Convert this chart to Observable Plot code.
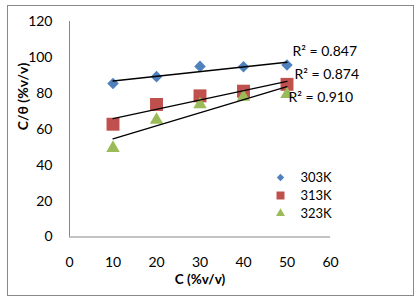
<!DOCTYPE html>
<html>
<head>
<meta charset="utf-8">
<script src="https://cdn.jsdelivr.net/npm/d3@7"></script>
<script src="https://cdn.jsdelivr.net/npm/@observablehq/plot@0.6"></script>
<style>
  html, body { margin: 0; padding: 0; background: #fff; }
  #wrap { position: relative; width: 418px; height: 300px; overflow: hidden; }
  #border { position: absolute; left: 7px; top: 5px; width: 405px; height: 289px; border: 1px solid #898989; pointer-events: none; }
  svg { display: block; font-family: Lato, "Open Sans", sans-serif; }
</style>
</head>
<body>
<div id="wrap"><div id="border"></div></div>
<script>
// ---- data ----
const concentrations = [10, 20, 30, 40, 50];
const seriesNames = ["303K", "313K", "323K"];
const values303 = [85.5, 89.3, 95.0, 94.8, 95.8];
const values313 = [62.8, 73.8, 78.6, 81.2, 85.0];
const values323 = [49.5, 65.2, 73.8, 78.0, 79.5];
const r2Labels = ["0.847", "0.874", "0.910"];
const xTicks = [0, 10, 20, 30, 40, 50, 60];
const yTicks = [0, 20, 40, 60, 80, 100, 120];

// ---- styles ----
const colors = ["#4F81BD", "#C0504D", "#9BBB59"];
const symbols = ["diamond2", "square", "triangle"];
const radii = [5.2, 7.3, 5.0];
const legendRadii = [3.3, 4.5, 3.3];
const r2Offsets = [[5.5, -13], [7.5, -10], [1.5, 3]];

const allValues = [values303, values313, values323];
const table = [];
allValues.forEach((vals, i) => {
  vals.forEach((v, j) => table.push({series: seriesNames[i], x: concentrations[j], y: v}));
});

const marks = [
  Plot.ruleX([0], {stroke: "#868686", strokeWidth: 1}),
  Plot.ruleY([0], {stroke: "#868686", strokeWidth: 1}),
  Plot.axisX({ticks: xTicks, tickSize: 0, tickPadding: 20, fontSize: 14, label: null, tickFormat: d => String(d)}),
  Plot.axisY({ticks: yTicks, tickSize: 0, tickPadding: 17, fontSize: 14, label: null, tickFormat: d => String(d)})
];

seriesNames.forEach((name, i) => {
  const rows = table.filter(d => d.series === name);
  marks.push(Plot.dot(rows, {x: "x", y: "y", symbol: () => symbols[i], r: radii[i], fill: colors[i], stroke: "none"}));
});
seriesNames.forEach((name, i) => {
  const rows = table.filter(d => d.series === name);
  marks.push(Plot.linearRegressionY(rows, {x: "x", y: "y", stroke: "black", strokeWidth: 1.3, ci: 0}));
});
seriesNames.forEach((name, i) => {
  const vals = allValues[i];
  const last = [{x: concentrations[concentrations.length - 1], y: vals[vals.length - 1], t: "R\u00B2 = " + r2Labels[i]}];
  marks.push(Plot.text(last, {x: "x", y: "y", text: "t", textAnchor: "start", lineAnchor: "middle", dx: r2Offsets[i][0], dy: r2Offsets[i][1], fontSize: 14, fill: "black"}));
});

// legend (inside frame, positioned relative to frame top-left)
seriesNames.forEach((name, i) => {
  marks.push(Plot.dot([name], {frameAnchor: "top-left", dx: 211, dy: 156 + i * 18, symbol: () => symbols[i], r: legendRadii[i], fill: colors[i], stroke: "none"}));
  marks.push(Plot.text([name], {frameAnchor: "top-left", dx: 231, dy: 156 + i * 18, text: d => d, textAnchor: "start", lineAnchor: "middle", fontSize: 13, fill: "black"}));
});

// axis titles
marks.push(Plot.text(["C (%v/v)"], {frameAnchor: "bottom", dy: 43, text: d => d, fontSize: 13.5, fontWeight: "bold", lineAnchor: "middle", fill: "black"}));
marks.push(Plot.text(["C/\u03B8 (%v/v)"], {frameAnchor: "left", dx: -46, dy: 1, rotate: -90, text: d => d, fontSize: 14, fontWeight: "bold", lineAnchor: "middle", fill: "black"}));

const chart = Plot.plot({
  width: 418,
  height: 300,
  marginLeft: 69,
  marginRight: 88,
  marginTop: 21,
  marginBottom: 63.5,
  style: {background: "transparent", fontFamily: "Lato, 'Open Sans', sans-serif", color: "black"},
  x: {domain: [0, 60]},
  y: {domain: [0, 120]},
  symbol: {type: "identity"},
  marks
});
document.getElementById("wrap").prepend(chart);
</script>
</body>
</html>
